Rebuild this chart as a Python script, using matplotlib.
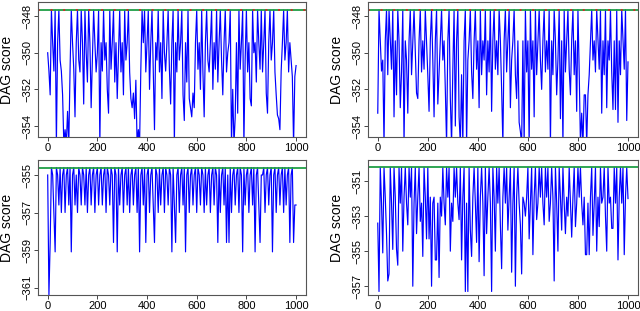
import matplotlib
matplotlib.use("Agg")
import matplotlib.pyplot as plt
import numpy as np

plt.rcParams['font.family'] = ['Liberation Sans', 'DejaVu Sans']

# iterations sampled every 5 steps
iters = list(range(0, 1001, 5))

score_a = [-350.0, -351.0, -352.3, -347.67, -349.45, -351.0, -347.67, -355, -349.45, -347.67,
           -350.4, -351.0, -352.3, -355, -354.2, -355, -353.2, -355, -351.0, -347.67,
           -349.45, -350.9, -353.5, -349.45, -347.67, -350.4, -351.05, -347.67, -349.45, -352.8,
           -347.67, -350.0, -351.6, -347.67, -349.45, -353.0, -350.4, -347.67, -349.45, -351.05,
           -350.0, -347.67, -355, -349.45, -351.0, -347.67, -350.4, -349.45, -352.0, -353.3,
           -347.67, -350.9, -349.45, -347.67, -351.6, -349.45, -352.5, -350.0, -347.67, -351.05,
           -349.45, -352.3, -347.67, -350.4, -349.45, -347.67, -351.05, -352.5, -353.0, -352.2,
           -353.6, -351.5, -355, -354.2, -355, -350.9, -347.67, -349.45, -347.67, -351.05,
           -349.45, -347.67, -352.0, -349.45, -347.67, -351.0, -354.2, -349.45, -350.4, -347.67,
           -351.05, -349.45, -352.5, -347.67, -350.0, -351.0, -349.45, -347.67, -350.9, -352.8,
           -349.45, -347.67, -355, -349.45, -351.05, -347.67, -350.4, -349.45, -347.67, -352.3,
           -353.7, -349.45, -351.6, -347.67, -352.5, -353.0, -353.5, -352.2, -353.0, -349.45,
           -347.67, -350.9, -349.45, -352.0, -347.67, -351.05, -353.5, -349.45, -347.67, -350.4,
           -351.05, -349.45, -347.67, -352.0, -349.45, -350.9, -347.67, -351.6, -349.45, -347.67,
           -350.4, -352.3, -349.45, -347.67, -351.05, -350.0, -349.45, -347.67, -355, -352.0,
           -355, -353.5, -349.45, -353.3, -347.67, -350.9, -349.45, -347.67, -355, -350.4,
           -347.67, -351.05, -349.45, -352.5, -352.9, -347.67, -350.0, -349.45, -351.6, -347.67,
           -349.45, -350.9, -347.67, -351.05, -349.45, -347.67, -352.2, -353.3, -349.45, -347.67,
           -350.4, -349.45, -347.67, -351.05, -352.3, -353.4, -353.6, -354.2, -351.0, -349.45,
           -347.67, -350.4, -349.45, -347.67, -351.05, -349.45, -350.4, -351.3, -355, -351.3,
           -350.7]

score_b = [-353.3, -347.65, -349.35, -351.0, -350.4, -355, -349.35, -347.65, -351.2, -347.65,
           -349.35, -350.9, -347.65, -353.5, -349.35, -352.3, -347.65, -349.35, -353.0, -351.05,
           -347.65, -355, -349.35, -350.4, -353.3, -349.35, -347.65, -351.2, -349.35, -347.65,
           -350.0, -352.2, -352.5, -349.35, -347.65, -351.05, -349.35, -350.9, -347.65, -349.35,
           -351.2, -353.2, -349.35, -347.65, -350.4, -353.5, -349.35, -347.65, -352.8, -351.05,
           -349.35, -347.65, -350.4, -349.35, -352.0, -355, -349.35, -347.65, -352.5, -355,
           -350.9, -347.65, -354.0, -349.35, -347.65, -353.5, -355, -351.2, -355, -349.35,
           -347.65, -355, -350.4, -349.35, -347.65, -351.05, -352.5, -349.35, -347.65, -350.9,
           -349.35, -353.0, -347.65, -351.2, -349.35, -350.4, -347.65, -352.3, -349.35, -351.05,
           -347.65, -353.2, -349.35, -347.65, -350.9, -349.35, -351.2, -347.65, -349.35, -352.0,
           -355, -349.35, -347.65, -351.05, -349.35, -347.65, -353.0, -350.4, -349.35, -347.65,
           -351.2, -352.5, -349.35, -353.8, -354.3, -355, -349.35, -355, -347.65, -351.05,
           -349.35, -355, -347.65, -350.9, -349.35, -353.5, -347.65, -351.2, -349.35, -347.65,
           -350.4, -352.0, -349.35, -347.65, -351.05, -349.35, -350.9, -347.65, -355, -349.35,
           -351.2, -347.65, -349.35, -352.3, -350.4, -347.65, -353.6, -349.35, -355, -347.65,
           -351.05, -349.35, -347.65, -350.9, -352.3, -349.35, -347.65, -351.2, -349.35, -353.2,
           -347.65, -351.05, -355, -353.3, -355, -352.3, -352.3, -355, -352.3, -351.2,
           -349.35, -347.65, -350.4, -349.35, -351.05, -347.65, -349.35, -350.9, -347.65, -353.3,
           -349.35, -351.2, -347.65, -353.0, -349.35, -350.4, -347.65, -351.05, -353.1, -349.35,
           -353.1, -347.65, -353.8, -349.35, -351.2, -347.65, -349.35, -350.9, -347.65, -353.7,
           -350.5]

score_c = [-355.0, -361.4, -358.6, -354.6, -355.0, -357.0, -359.1, -354.6, -355.0, -356.6,
           -354.6, -357.0, -355.0, -354.6, -357.0, -355.0, -354.6, -356.6, -354.6, -359.1,
           -355.0, -354.6, -356.6, -355.0, -357.0, -354.6, -355.0, -356.6, -354.6, -355.0,
           -356.6, -354.6, -357.0, -355.0, -354.6, -356.6, -355.0, -354.6, -357.0, -355.0,
           -354.6, -356.6, -355.0, -354.6, -356.6, -355.0, -354.6, -357.0, -354.6, -355.0,
           -356.6, -354.6, -355.0, -358.6, -354.6, -355.0, -359.1, -354.6, -356.6, -355.0,
           -354.6, -357.0, -355.0, -354.6, -356.6, -354.6, -357.0, -355.0, -354.6, -356.6,
           -355.0, -354.6, -357.0, -354.6, -359.1, -355.0, -354.6, -356.6, -354.6, -358.6,
           -355.0, -354.6, -357.0, -355.0, -354.6, -356.6, -358.6, -354.6, -355.0, -357.0,
           -354.6, -356.6, -355.0, -354.6, -357.0, -354.6, -355.0, -356.6, -354.6, -355.0,
           -359.1, -354.6, -356.6, -358.6, -355.0, -354.6, -357.0, -355.0, -354.6, -356.6,
           -354.6, -359.1, -355.0, -354.6, -357.0, -355.0, -354.6, -356.6, -355.0, -354.6,
           -357.0, -354.6, -355.0, -356.6, -354.6, -355.0, -357.0, -354.6, -356.6, -355.0,
           -354.6, -357.0, -355.0, -354.6, -356.6, -354.6, -355.0, -358.6, -354.6, -357.0,
           -355.0, -354.6, -356.6, -354.6, -358.6, -355.0, -358.6, -354.6, -357.0, -355.0,
           -354.6, -356.6, -355.0, -354.6, -357.0, -354.6, -355.0, -359.1, -354.6, -356.6,
           -355.0, -354.6, -357.0, -355.0, -354.6, -356.6, -354.6, -359.1, -355.0, -354.6,
           -356.6, -358.6, -355.0, -355.0, -354.6, -357.0, -355.0, -354.6, -356.6, -355.0,
           -354.6, -359.1, -355.0, -354.6, -357.0, -355.0, -354.6, -356.6, -355.0, -354.6,
           -357.0, -354.6, -356.6, -355.0, -354.6, -358.6, -355.0, -354.6, -358.6, -356.6,
           -356.6]

score_d = [-353.4, -357.3, -350.22, -352.26, -355.1, -350.22, -351.92, -354.0, -356.7, -356.3,
           -350.22, -352.26, -354.9, -350.22, -351.92, -354.9, -355.8, -350.22, -352.26, -350.22,
           -355.0, -351.92, -350.22, -352.26, -353.5, -350.22, -351.92, -350.22, -357.0, -352.26,
           -350.22, -354.0, -351.92, -350.22, -353.3, -352.26, -355.3, -350.22, -351.92, -354.3,
           -350.22, -354.3, -351.92, -357.0, -352.26, -351.92, -355.5, -355.5, -352.26, -356.5,
           -351.92, -353.0, -350.22, -352.26, -353.5, -350.22, -351.92, -350.22, -355.0, -352.26,
           -353.3, -350.22, -351.92, -350.22, -352.26, -353.2, -350.22, -355.5, -351.92, -350.22,
           -357.3, -352.26, -357.3, -350.22, -353.8, -355.3, -351.92, -350.22, -352.26, -354.5,
           -350.22, -355.6, -351.92, -350.22, -352.26, -356.4, -350.22, -354.0, -351.92, -350.22,
           -352.26, -357.3, -350.22, -351.92, -355.0, -350.22, -352.26, -350.22, -353.5, -356.0,
           -351.92, -350.22, -352.26, -350.22, -353.8, -351.92, -350.22, -356.2, -352.26, -350.22,
           -357.0, -351.92, -350.22, -352.26, -353.5, -356.3, -351.92, -352.26, -353.0, -351.92,
           -350.22, -354.3, -352.26, -350.22, -355.2, -351.92, -350.22, -353.2, -352.26, -350.22,
           -351.92, -350.22, -352.26, -353.5, -350.22, -351.92, -350.22, -353.3, -352.26, -350.22,
           -351.92, -356.7, -350.22, -352.26, -355.0, -350.22, -351.92, -353.8, -350.22, -352.26,
           -354.0, -351.92, -353.0, -350.22, -352.26, -354.2, -351.92, -350.22, -353.6, -352.26,
           -350.22, -351.92, -350.22, -352.26, -353.5, -351.92, -355.2, -355.2, -352.26, -355.2,
           -351.92, -350.22, -354.1, -352.26, -350.22, -355.0, -351.92, -353.6, -350.22, -352.26,
           -351.92, -350.22, -353.0, -355.0, -350.22, -352.26, -351.92, -353.7, -353.7, -350.22,
           -352.26, -350.22, -355.5, -351.92, -350.22, -352.26, -350.22, -355.2, -351.92, -350.22,
           -352.0]

best_scores = [-347.67, -347.65, -354.6, -350.22]
y_ticks = [[-354, -352, -350, -348], [-354, -352, -350, -348],
           [-361, -359, -357, -355], [-357, -355, -353, -351]]
y_limits = [(-354.6, -347.23), (-354.6, -347.23), (-361.4, -354.2), (-357.5, -349.8)]

fig = plt.figure(figsize=(6.4, 3.11), dpi=100)
rects = [[38/640, 174/311, 268/640, 135/311],
         [368/640, 174/311, 270/640, 135/311],
         [38/640, 16/311, 268/640, 135/311],
         [368/640, 16/311, 270/640, 135/311]]
series = [score_a, score_b, score_c, score_d]

for k in range(4):
    ax = fig.add_axes(rects[k])
    ax.plot(iters, series[k], color='#0000ff', lw=0.85)
    ax.axhline(best_scores[k], color='#1f9e45', lw=1.3)
    if k < 2:
        ax.axhline(best_scores[k], color='#e02020', lw=1.3, ls=(0, (1, 6)))
    ax.set_xlim(-39, 1040)
    ax.set_ylim(*y_limits[k])
    ax.set_xticks([0, 200, 400, 600, 800, 1000])
    ax.set_yticks(y_ticks[k])
    ax.tick_params(labelsize=8, length=3, width=0.7, color='#444444', pad=1)
    ax.tick_params(axis='y', labelrotation=90)
    for lab in ax.get_yticklabels():
        lab.set_va('center')
    for sp in ax.spines.values():
        sp.set_color('#555555')
        sp.set_linewidth(0.8)
    ax.set_ylabel('DAG score', fontsize=10)
    ax.yaxis.set_label_coords(-0.088, 0.5)

fig.savefig('out.png', dpi=100)
